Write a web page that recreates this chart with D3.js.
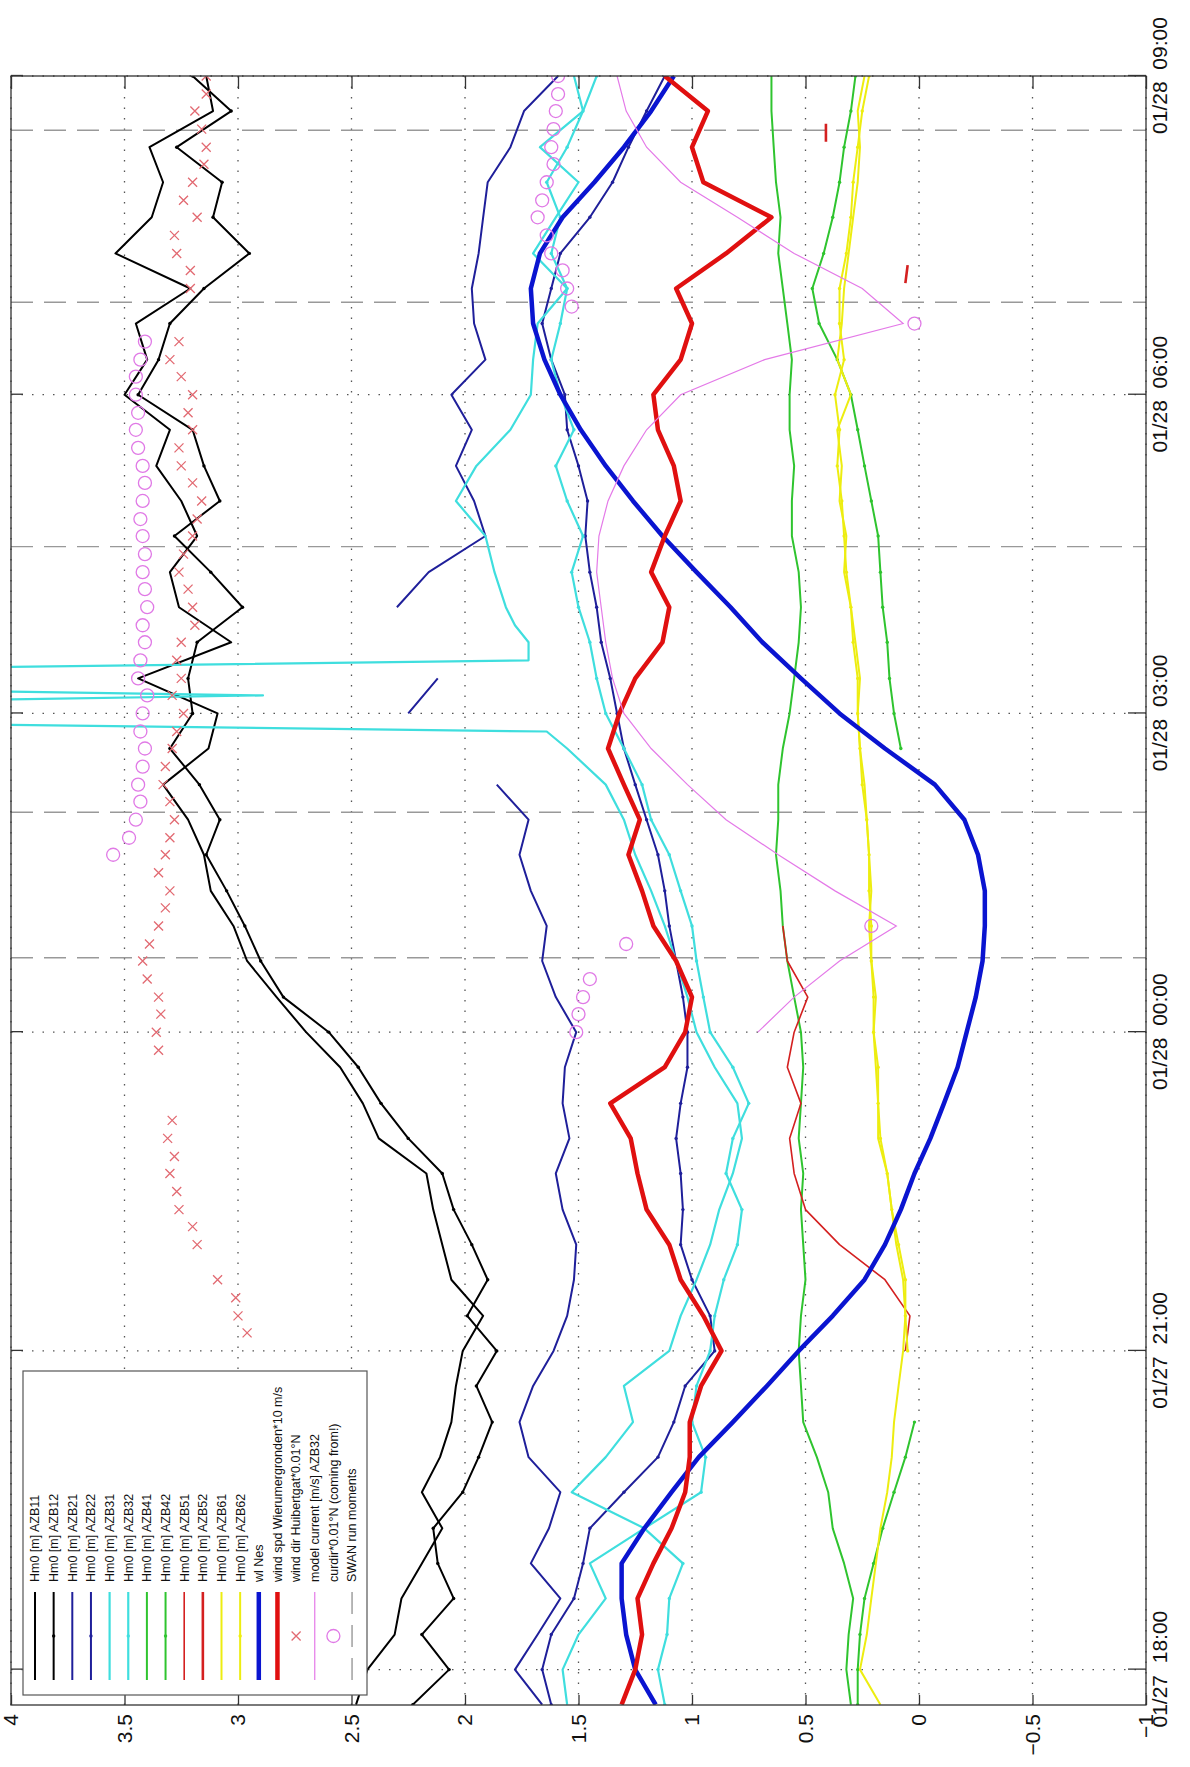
<!DOCTYPE html>
<html>
<head>
<meta charset="utf-8">
<script src="https://cdnjs.cloudflare.com/ajax/libs/d3/7.8.5/d3.min.js"></script>
<style>
  body { margin: 0; background: #fff; }
  svg { display: block; font-family: "Liberation Sans", Arial, Helvetica, sans-serif; }
</style>
</head>
<body>
<svg id="chart" width="1190" height="1767"></svg>
<script>
// hours after 01/27 18:00, 20 minute steps
const hours = [-0.33, 0, 0.33, 0.67, 1, 1.33, 1.67, 2, 2.33, 2.67,
  3, 3.33, 3.67, 4, 4.33, 4.67, 5, 5.33, 5.67, 6,
  6.33, 6.67, 7, 7.33, 7.67, 8, 8.33, 8.67, 9, 9.33,
  9.67, 10, 10.33, 10.67, 11, 11.33, 11.67, 12, 12.33, 12.67,
  13, 13.33, 13.67, 14, 14.33, 14.67, 15];

const azb11 = [2.48, 2.43, 2.31, 2.28, 2.19, 2.10, 2.19, 2.11, 2.06, 2.04,
  2.01, 1.92, 2.06, 2.10, 2.14, 2.17, 2.38, 2.45, 2.55, 2.70,
  2.83, 2.96, 3.02, 3.12, 3.15, 3.22, 3.33, 3.13, 3.09, 3.44,
  3.03, 3.26, 3.30, 3.18, 3.25, 3.36, 3.30, 3.50, 3.40, 3.45,
  3.21, 3.54, 3.38, 3.33, 3.39, 3.11, 3.14];
const azb12 = [2.23, 2.07, 2.19, 2.05, 2.12, 2.14, 2.01, 1.94, 1.88, 1.95,
  1.86, 1.99, 1.90, 1.97, 2.05, 2.10, 2.25, 2.37, 2.47, 2.60,
  2.80, 2.90, 2.97, 3.05, 3.14, 3.08, 3.17, 3.30, 3.20, 3.22,
  3.18, 2.98, 3.12, 3.28, 3.08, 3.15, 3.20, 3.44, 3.35, 3.30,
  3.15, 2.95, 3.11, 3.07, 3.27, 3.03, 3.20];
const azb21 = [1.66, 1.78, 1.68, 1.58, 1.71, 1.63, 1.58, 1.72, 1.76, 1.70,
  1.61, 1.55, 1.52, 1.51, 1.57, 1.60, 1.54, 1.57, 1.56, 1.51,
  1.60, 1.66, 1.64, 1.71, 1.76, 1.72, 1.86, null, 2.25, 2.12,
  null, 2.30, 2.16, 1.91, 1.96, 2.04, 1.97, 2.06, 1.91, 1.96,
  1.97, 1.94, 1.92, 1.90, 1.80, 1.74, 1.59];
const azb22 = [1.62, 1.66, 1.62, 1.52, 1.48, 1.45, 1.30, 1.15, 1.08, 1.03,
  0.90, 0.92, 1.00, 1.05, 1.04, 1.05, 1.07, 1.05, 1.02, 1.02,
  1.04, 1.07, 1.10, 1.12, 1.15, 1.20, 1.25, 1.30, 1.33, 1.36,
  1.40, 1.42, 1.45, 1.47, 1.46, 1.50, 1.55, 1.56, 1.62, 1.66,
  1.62, 1.58, 1.45, 1.35, 1.28, 1.20, 1.12];
// AZB31 has its own times: the spike near 03:00 goes off the chart
const azb31 = [[-0.33, 1.55], [0, 1.57], [0.33, 1.50], [0.67, 1.38], [1, 1.45], [1.33, 1.21],
  [1.67, 1.53], [2, 1.38], [2.33, 1.26], [2.67, 1.30], [3, 1.10], [3.33, 1.05], [3.67, 0.98],
  [4, 0.92], [4.33, 0.88], [4.67, 0.82], [5, 0.78], [5.33, 0.80], [5.67, 0.90], [6, 0.98],
  [6.33, 1.02], [6.67, 1.07], [7, 1.12], [7.33, 1.18], [7.67, 1.25], [8, 1.30], [8.33, 1.38],
  [8.67, 1.55], [8.83, 1.64], [9, 8], [9.17, 2.89], [9.33, 8], [9.5, 1.72], [9.67, 1.72],
  [9.83, 1.78], [10, 1.82], [10.33, 1.87], [10.67, 1.91], [11, 2.04], [11.33, 1.95],
  [11.67, 1.80], [12, 1.71], [12.33, 1.70], [12.67, 1.68], [13, 1.55], [13.33, 1.70],
  [13.67, 1.60], [14, 1.50], [14.33, 1.67], [14.67, 1.48], [15, 1.52]];
const azb32 = [1.12, 1.15, 1.11, 1.10, 1.04, 1.21, 0.96, 0.94, 1.00, 0.98,
  0.92, 0.90, 0.86, 0.80, 0.78, 0.85, 0.82, 0.75, 0.82, 0.92,
  0.95, 0.98, 1.00, 1.05, 1.10, 1.18, 1.22, 1.30, 1.38, 1.42,
  1.45, 1.50, 1.53, 1.48, 1.55, 1.60, 1.52, 1.58, 1.62, 1.58,
  1.55, 1.62, 1.58, 1.64, 1.55, 1.48, 1.42];
const azb41 = [0.30, 0.32, 0.31, 0.29, 0.33, 0.38, 0.40, 0.45, 0.51, 0.52,
  0.53, 0.52, 0.50, 0.51, 0.52, 0.51, 0.53, 0.52, 0.51, 0.52,
  0.55, 0.58, 0.60, 0.61, 0.63, 0.62, 0.62, 0.60, 0.57, 0.55,
  0.53, 0.52, 0.53, 0.56, 0.56, 0.55, 0.57, 0.57, 0.56, 0.58,
  0.60, 0.62, 0.61, 0.63, 0.64, 0.65, 0.65];
const azb42 = [0.27, 0.27, 0.26, 0.24, 0.20, 0.16, 0.11, 0.06, 0.02, null,
  null, null, null, null, null, null, null, null, null, null,
  null, null, null, null, null, null, null, 0.08, 0.11, 0.13,
  0.14, 0.16, 0.17, 0.18, 0.21, 0.24, 0.27, 0.30, 0.36, 0.44,
  0.47, 0.42, 0.38, 0.35, 0.33, 0.30, 0.28];
const azb51 = [null, null, null, null, null, null, null, null, null, null,
  0.06, 0.04, 0.15, 0.35, 0.50, 0.55, 0.57, 0.52, 0.58, 0.55,
  0.49, 0.58, 0.60, null, null, null, null, null, null, null,
  null, null, null, null, null, null, null, null, null, null,
  null, null, null, null, null, null, null];
const azb52 = [[13.05, 0.06], [13.22, 0.05], [13.3, null], [14.38, 0.41], [14.55, 0.41]];
const azb61 = [0.17, 0.26, 0.23, 0.21, 0.19, 0.17, 0.14, 0.12, 0.11, 0.09,
  0.07, 0.06, 0.07, 0.10, 0.12, 0.14, 0.18, 0.18, 0.19, 0.20,
  0.19, 0.21, 0.22, 0.21, 0.22, 0.23, 0.24, 0.26, 0.27, 0.26,
  0.28, 0.30, 0.33, 0.32, 0.35, 0.34, 0.36, 0.30, 0.36, 0.34,
  0.33, 0.31, 0.29, 0.27, 0.26, 0.27, 0.24];
const azb62 = [null, null, null, null, null, null, null, null, null, null,
  0.05, 0.06, 0.06, 0.09, 0.12, 0.14, 0.17, 0.18, 0.18, 0.20,
  0.20, 0.21, 0.21, 0.22, 0.22, 0.23, 0.25, 0.26, 0.27, 0.27,
  0.29, 0.30, 0.32, 0.33, 0.34, 0.36, 0.35, 0.37, 0.33, 0.35,
  0.35, 0.32, 0.30, 0.29, 0.27, 0.25, 0.22];
const wlNes = [1.16, 1.25, 1.29, 1.31, 1.31, 1.21, 1.09, 0.97, 0.82, 0.67,
  0.53, 0.38, 0.24, 0.15, 0.08, 0.02, -0.05, -0.11, -0.17, -0.21,
  -0.25, -0.28, -0.29, -0.29, -0.26, -0.20, -0.07, 0.15, 0.35, 0.52,
  0.69, 0.83, 0.98, 1.13, 1.26, 1.38, 1.49, 1.58, 1.65, 1.70,
  1.71, 1.67, 1.57, 1.43, 1.30, 1.18, 1.08];
const windSpd = [1.31, 1.25, 1.22, 1.24, 1.17, 1.09, 1.03, 1.01, 1.01, 0.96,
  0.87, 0.95, 1.05, 1.10, 1.20, 1.24, 1.27, 1.36, 1.12, 1.03,
  1.00, 1.07, 1.17, 1.22, 1.28, 1.23, 1.30, 1.37, 1.32, 1.25,
  1.13, 1.10, 1.18, 1.12, 1.05, 1.08, 1.15, 1.17, 1.05, 1.00,
  1.07, 0.85, 0.65, 0.95, 1.00, 0.93, 1.12];
const modelCurrent = [null, null, null, null, null, null, null, null, null, null,
  null, null, null, null, null, null, null, null, null, 0.71,
  0.55, 0.35, 0.10, 0.37, 0.62, 0.85, 1.02, 1.18, 1.30, 1.35,
  1.38, 1.40, 1.42, 1.41, 1.37, 1.30, 1.20, 1.05, 0.68, 0.07,
  0.25, 0.55, 0.80, 1.05, 1.20, 1.29, 1.33];

// wind dir (x markers) and curdir (circles), 10 minute samples
const windDir = [[3.17, 2.96], [3.33, 3.00], [3.5, 3.01], [3.67, 3.09], [4, 3.18], [4.17, 3.20],
  [4.33, 3.26], [4.5, 3.27], [4.67, 3.30], [4.83, 3.28], [5, 3.31], [5.17, 3.29],
  [5.83, 3.35], [6, 3.36], [6.17, 3.34], [6.33, 3.35], [6.5, 3.40], [6.67, 3.42], [6.83, 3.39],
  [7, 3.35], [7.17, 3.32], [7.33, 3.30], [7.5, 3.35], [7.67, 3.32], [7.83, 3.30],
  [8, 3.28], [8.17, 3.30], [8.33, 3.33], [8.5, 3.32], [8.67, 3.29], [8.83, 3.27],
  [9, 3.24], [9.17, 3.29], [9.33, 3.25], [9.5, 3.27], [9.67, 3.25], [9.83, 3.19],
  [10, 3.20], [10.17, 3.22], [10.33, 3.26], [10.5, 3.24], [10.67, 3.20], [10.83, 3.18],
  [11, 3.16], [11.17, 3.20], [11.33, 3.25], [11.5, 3.26], [11.67, 3.20], [11.83, 3.22],
  [12, 3.20], [12.17, 3.25], [12.33, 3.30], [12.5, 3.26],
  [13, 3.21], [13.17, 3.21], [13.33, 3.27], [13.5, 3.28], [13.67, 3.18], [13.83, 3.24],
  [14, 3.20], [14.17, 3.15], [14.33, 3.14], [14.5, 3.16], [14.67, 3.19], [14.83, 3.14], [15, 3.14]];
const curDir = [[6, 1.51], [6.17, 1.50], [6.33, 1.48], [6.5, 1.45], [6.83, 1.29], [7, 0.21],
  [7.67, 3.55], [7.83, 3.48], [8, 3.45], [8.17, 3.43], [8.33, 3.44], [8.5, 3.42], [8.67, 3.41],
  [8.83, 3.43], [9, 3.42], [9.17, 3.40], [9.33, 3.44], [9.5, 3.43], [9.67, 3.41], [9.83, 3.42],
  [10, 3.40], [10.17, 3.41], [10.33, 3.42], [10.5, 3.41], [10.67, 3.42], [10.83, 3.43],
  [11, 3.42], [11.17, 3.41], [11.33, 3.42], [11.5, 3.44], [11.67, 3.45], [11.83, 3.44],
  [12, 3.45], [12.17, 3.45], [12.33, 3.43], [12.5, 3.41], [12.67, 0.02], [12.83, 1.53],
  [13, 1.55], [13.17, 1.57], [13.33, 1.62], [13.5, 1.64], [13.67, 1.68], [13.83, 1.66],
  [14, 1.64], [14.17, 1.61], [14.33, 1.62], [14.5, 1.61], [14.67, 1.60], [14.83, 1.59], [15, 1.59]];

const swanRuns = [6.7, 8.07, 10.57, 12.87, 14.49];

const valueTicks = [-1, -0.5, 0, 0.5, 1, 1.5, 2, 2.5, 3, 3.5, 4];
const timeTicks = [0, 3, 6, 9, 12, 15];
const timeLabels = ['01/27  18:00', '01/27  21:00', '01/28  00:00', '01/28  03:00', '01/28  06:00', '01/28  09:00'];

// the chart is drawn in landscape and turned a quarter to the left
const plot = {left: 62, right: 1691, top: 11, bottom: 1146};

const svg = d3.select('#chart');
const g = svg.append('g').attr('transform', 'translate(0,1767) rotate(-90)');

const x = d3.scaleLinear().domain([-0.333, 15]).range([plot.left, plot.right]);
const y = d3.scaleLinear().domain([-1, 4]).range([plot.bottom, plot.top]);

g.append('clipPath').attr('id', 'plotclip')
  .append('rect')
    .attr('x', plot.left).attr('y', plot.top)
    .attr('width', plot.right - plot.left).attr('height', plot.bottom - plot.top);

// grid
g.append('g').selectAll('line')
  .data(valueTicks)
  .join('line')
    .attr('x1', plot.left).attr('x2', plot.right)
    .attr('y1', d => y(d)).attr('y2', d => y(d))
    .attr('stroke', '#555').attr('stroke-width', 1.3)
    .attr('stroke-dasharray', '1.5,9');

g.append('g').selectAll('line')
  .data(timeTicks)
  .join('line')
    .attr('x1', d => x(d)).attr('x2', d => x(d))
    .attr('y1', plot.top).attr('y2', plot.bottom)
    .attr('stroke', '#555').attr('stroke-width', 1.3)
    .attr('stroke-dasharray', '1.5,9');

// SWAN run moments
g.append('g').selectAll('line')
  .data(swanRuns)
  .join('line')
    .attr('x1', d => x(d)).attr('x2', d => x(d))
    .attr('y1', plot.top).attr('y2', plot.bottom)
    .attr('stroke', '#999').attr('stroke-width', 1.4)
    .attr('stroke-dasharray', '22,11');

const line = d3.line()
  .defined(d => d[1] != null)
  .x(d => x(d[0]))
  .y(d => y(d[1]));

const onGrid = vals => hours.map((h, i) => [h, vals[i]]);

const series = [
  {data: onGrid(azb11), color: '#000000', w: 2},
  {data: onGrid(azb12), color: '#000000', w: 2, dots: true},
  {data: onGrid(azb21), color: '#1f1f9a', w: 2},
  {data: onGrid(azb22), color: '#1f1f9a', w: 2, dots: true},
  {data: azb31, color: '#3fdede', w: 2.2},
  {data: onGrid(azb32), color: '#3fdede', w: 2.2, dots: true},
  {data: onGrid(azb41), color: '#2fc42f', w: 2},
  {data: onGrid(azb42), color: '#2fc42f', w: 2, dots: true},
  {data: onGrid(azb51), color: '#d42020', w: 1.6},
  {data: azb52, color: '#d42020', w: 2.6},
  {data: onGrid(azb61), color: '#eded10', w: 2},
  {data: onGrid(azb62), color: '#eded10', w: 2, dots: true},
  {data: onGrid(wlNes), color: '#0a14d0', w: 4.5},
  {data: onGrid(windSpd), color: '#e01010', w: 4.5}
];

const plotArea = g.append('g').attr('clip-path', 'url(#plotclip)');

series.forEach(s => {
  plotArea.append('path')
    .datum(s.data)
    .attr('fill', 'none')
    .attr('stroke', s.color)
    .attr('stroke-width', s.w)
    .attr('stroke-linejoin', 'round')
    .attr('d', line);
  if (s.dots) {
    plotArea.append('g').selectAll('circle')
      .data(s.data.filter(d => d[1] != null))
      .join('circle')
        .attr('cx', d => x(d[0])).attr('cy', d => y(d[1]))
        .attr('r', 1.7).attr('fill', s.color);
  }
});

// wind direction markers
plotArea.append('g').selectAll('path')
  .data(windDir)
  .join('path')
    .attr('transform', d => `translate(${x(d[0])},${y(d[1])})`)
    .attr('d', 'M-4.5,-4.5L4.5,4.5M-4.5,4.5L4.5,-4.5')
    .attr('stroke', '#e26a72').attr('stroke-width', 1.3).attr('fill', 'none');

// model current
plotArea.append('path')
  .datum(onGrid(modelCurrent))
  .attr('fill', 'none')
  .attr('stroke', '#e47ae8')
  .attr('stroke-width', 1.2)
  .attr('d', line);

// current direction circles
plotArea.append('g').selectAll('circle')
  .data(curDir)
  .join('circle')
    .attr('cx', d => x(d[0])).attr('cy', d => y(d[1]))
    .attr('r', 6.5)
    .attr('fill', 'none').attr('stroke', '#e07ae6').attr('stroke-width', 1.3);

// frame
g.append('rect')
  .attr('x', plot.left).attr('y', plot.top)
  .attr('width', plot.right - plot.left).attr('height', plot.bottom - plot.top)
  .attr('fill', 'none').attr('stroke', '#333').attr('stroke-width', 1.3);

// axes, ticks pointing inward
const yAxis = g.append('g')
  .attr('transform', `translate(${plot.left},0)`)
  .call(d3.axisLeft(y).tickValues(valueTicks).tickSize(-10).tickPadding(9).tickFormat(d3.format('')));
const xAxis = g.append('g')
  .attr('transform', `translate(0,${plot.bottom})`)
  .call(d3.axisBottom(x).tickValues(timeTicks).tickSize(-18).tickPadding(6).tickFormat((d, i) => timeLabels[i]));
g.append('g')
  .attr('transform', `translate(${plot.right},0)`)
  .call(d3.axisRight(y).tickValues(valueTicks).tickSize(-13).tickFormat(''));
g.append('g')
  .attr('transform', `translate(0,${plot.top})`)
  .call(d3.axisTop(x).tickValues(timeTicks).tickSize(-12).tickFormat(''));

g.selectAll('.domain').remove();
g.selectAll('.tick line').attr('stroke', '#333').attr('stroke-width', 1.3);
yAxis.selectAll('text').attr('font-size', 21).attr('fill', '#111');
xAxis.selectAll('text').attr('font-size', 21).attr('fill', '#111').style('white-space', 'pre');

// legend
const legendItems = [
  {name: 'Hm0 [m] AZB11', color: '#000000', w: 2},
  {name: 'Hm0 [m] AZB12', color: '#000000', w: 2, dot: true},
  {name: 'Hm0 [m] AZB21', color: '#1f1f9a', w: 2},
  {name: 'Hm0 [m] AZB22', color: '#1f1f9a', w: 2, dot: true},
  {name: 'Hm0 [m] AZB31', color: '#3fdede', w: 2.2},
  {name: 'Hm0 [m] AZB32', color: '#3fdede', w: 2.2, dot: true},
  {name: 'Hm0 [m] AZB41', color: '#2fc42f', w: 2},
  {name: 'Hm0 [m] AZB42', color: '#2fc42f', w: 2, dot: true},
  {name: 'Hm0 [m] AZB51', color: '#d42020', w: 1.6},
  {name: 'Hm0 [m] AZB52', color: '#d42020', w: 2.6},
  {name: 'Hm0 [m] AZB61', color: '#eded10', w: 2},
  {name: 'Hm0 [m] AZB62', color: '#eded10', w: 2, dot: true},
  {name: 'wl Nes', color: '#0a14d0', w: 4.5},
  {name: 'wind spd Wierumergronden*10 m/s', color: '#e01010', w: 4.5},
  {name: 'wind dir Huibertgat*0.01°N', kind: 'x'},
  {name: 'model current [m/s] AZB32', color: '#e47ae8', w: 1.2},
  {name: 'curdir*0.01°N (coming from!)', kind: 'o'},
  {name: 'SWAN run moments', color: '#999', w: 1.4, dash: '22,11'}
];

const legend = g.append('g').attr('transform', 'translate(72,23)');
legend.append('rect')
  .attr('width', 324).attr('height', 344)
  .attr('fill', '#fff').attr('stroke', '#555').attr('stroke-width', 1.2);

const rows = legend.selectAll('g.row')
  .data(legendItems)
  .join('g')
    .attr('class', 'row')
    .attr('transform', (d, i) => `translate(0,${12 + i * 18.65})`);

rows.filter(d => !d.kind).append('line')
  .attr('x1', 15).attr('x2', 103)
  .attr('stroke', d => d.color).attr('stroke-width', d => d.w)
  .attr('stroke-dasharray', d => d.dash || null);
rows.filter(d => d.dot).append('circle')
  .attr('cx', 59).attr('r', 1.7).attr('fill', d => d.color);
rows.filter(d => d.kind === 'x').append('path')
  .attr('d', 'M54.5,-4.5L63.5,4.5M54.5,4.5L63.5,-4.5')
  .attr('stroke', '#e26a72').attr('stroke-width', 1.3);
rows.filter(d => d.kind === 'o').append('circle')
  .attr('cx', 59).attr('r', 6.5)
  .attr('fill', 'none').attr('stroke', '#e07ae6').attr('stroke-width', 1.3);

rows.append('text')
  .attr('x', 113).attr('dy', '0.35em')
  .attr('font-size', 12.5).attr('fill', '#111')
  .text(d => d.name);
</script>
</body>
</html>
